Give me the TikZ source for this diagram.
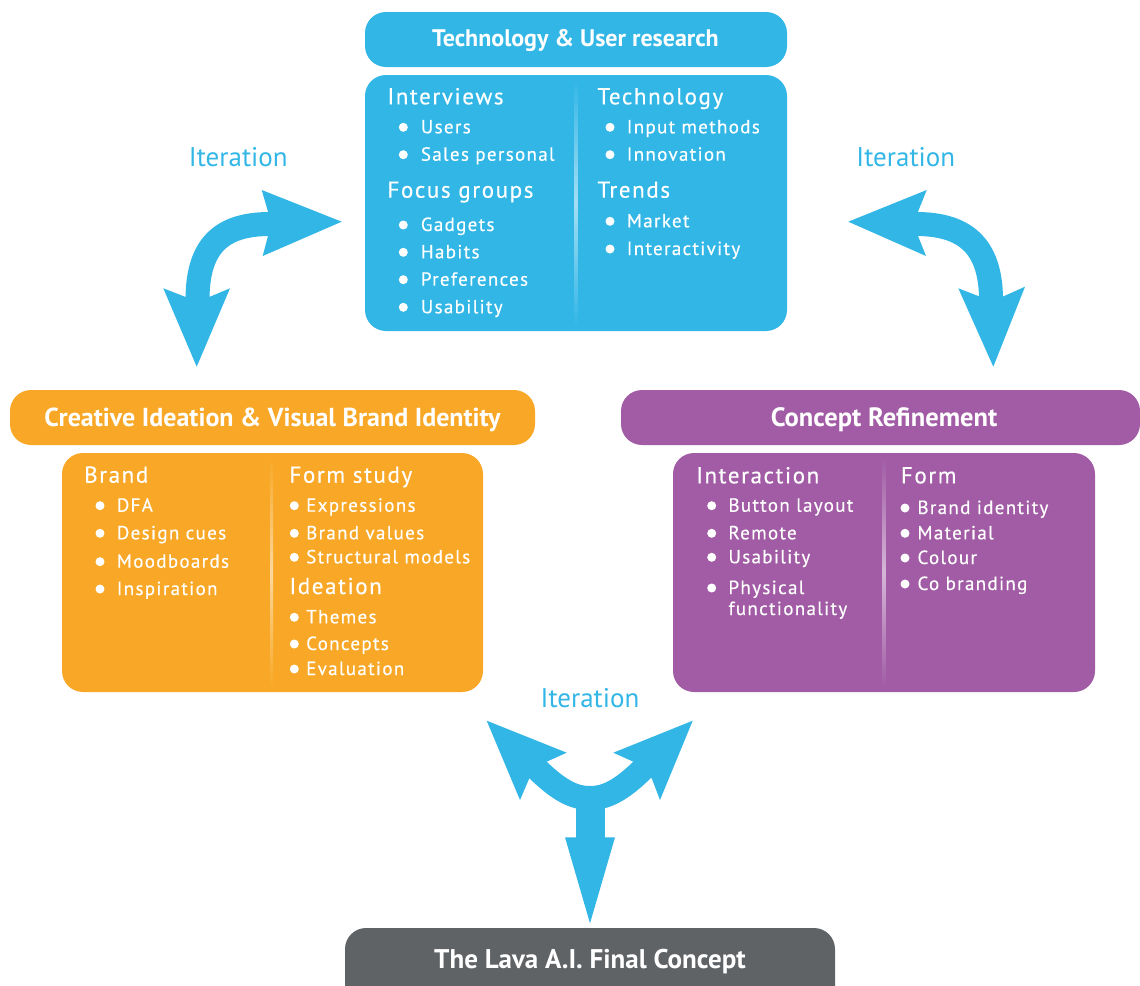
\documentclass[tikz,border=0pt]{standalone}
\usepackage{fontspec}
\setmainfont{PT Sans}
\newfontfamily\listfont[LetterSpace=7,FakeBold=0.4]{PT Sans}
\definecolor{skyblue}{RGB}{50,182,230}
\definecolor{amber}{RGB}{248,168,38}
\definecolor{plum}{RGB}{161,92,165}
\definecolor{slate}{RGB}{96,99,102}

% bullet entry: name, bullet x, text x, baseline y, text
\newcommand\listentry[5]{%
  \fill[white] (#2,#4-6) circle[radius=4.5pt];
  \node[entry] (#1) at (#3,#4) {#5};}

\begin{document}
\begin{tikzpicture}[x=1pt,y=-1pt,
  panel/.style={rectangle, rounded corners=21pt, fill=#1, draw=none,
    inner sep=0pt, outer sep=0pt},
  bartitle/.style={text=white, anchor=base, inner sep=0pt,
    font=\bfseries\fontsize{#1}{28}\selectfont},
  head/.style={text=white, anchor=base west, inner sep=0pt,
    font=\listfont\fontsize{23}{27}\selectfont},
  entry/.style={text=white, anchor=base west, inner sep=0pt,
    font=\listfont\fontsize{19}{23}\selectfont},
  iterlabel/.style={text=skyblue, anchor=base, inner sep=0pt,
    font=\fontsize{27}{31}\selectfont},
  shaft/.style={draw=skyblue, line width=24pt},
]
\useasboundingbox (0,0) rectangle (1140,985);
\clip (0,0) rectangle (1140,985);

% ---------- research block ----------
\node[panel=skyblue, minimum width=422pt, minimum height=55pt] (topbar) at (576,39.5) {};
\node[bartitle=24] (toptitle) at (575.5,46.7) {Technology \& User research};
\node[panel=skyblue, minimum width=422pt, minimum height=256pt] (topbody) at (576,203) {};
\shade[top color=skyblue, bottom color=skyblue, middle color=white!55!skyblue]
  (574.7,80) rectangle (577.3,326);

\node[head] (interviews) at (387.3,104.3) {Interviews};
\listentry{users}{403.3}{420.7}{133.3}{Users}
\listentry{sales}{403.3}{420.7}{160.7}{Sales personal}
\node[head] (focus) at (387.3,197.7) {Focus groups};
\listentry{gadgets}{403.3}{420.7}{231}{Gadgets}
\listentry{habits}{403.3}{420.7}{258.3}{Habits}
\listentry{prefs}{403.3}{420.7}{285.7}{Preferences}
\listentry{usab}{403.3}{420.7}{313.3}{Usability}
\node[head] (techno) at (597.3,104.3) {Technology};
\listentry{input}{610}{626.7}{133.3}{Input methods}
\listentry{innov}{610}{626.7}{160.7}{Innovation}
\node[head] (trends) at (597.3,197.7) {Trends};
\listentry{market}{610}{626.7}{227.3}{Market}
\listentry{interact}{610}{626.7}{255}{Interactivity}

% ---------- ideation block ----------
\node[panel=amber, minimum width=525pt, minimum height=55pt] (leftbar) at (272.5,417.5) {};
\node[bartitle=26] (lefttitle) at (272.5,426.5) {Creative Ideation \& Visual Brand Identity};
\node[panel=amber, minimum width=421pt, minimum height=239pt] (leftbody) at (272.5,572.5) {};
\shade[top color=amber, bottom color=amber, middle color=white!55!amber]
  (270.4,458) rectangle (273,687);

\node[head] (brand) at (84,482.7) {Brand};
\listentry{dfa}{100}{116.7}{511.7}{DFA}
\listentry{cues}{100}{116.7}{539.3}{Design cues}
\listentry{mood}{100}{116.7}{567.7}{Moodboards}
\listentry{inspi}{100}{116.7}{595}{Inspiration}
\node[head] (formstudy) at (289.3,482.7) {Form study};
\listentry{expr}{294.3}{306}{511.7}{Expressions}
\listentry{bvalues}{294.3}{306}{539.3}{Brand values}
\listentry{struct}{294.3}{306}{563.3}{Structural models}
\node[head] (ideation) at (289.3,594) {Ideation};
\listentry{themes}{294.3}{306}{623.3}{Themes}
\listentry{concepts}{294.3}{306}{650}{Concepts}
\listentry{evalu}{294.3}{306}{675}{Evaluation}

% ---------- refinement block ----------
\node[panel=plum, minimum width=519pt, minimum height=55pt] (rightbar) at (880.5,417.5) {};
\node[bartitle=26.5] (righttitle) at (884,426.5) {Concept Refinement};
\node[panel=plum, minimum width=422pt, minimum height=239pt] (rightbody) at (884,572.5) {};
\shade[top color=plum, bottom color=plum, middle color=white!55!plum]
  (882.7,458) rectangle (885.3,687);

\node[head] (interaction) at (696,483.3) {Interaction};
\listentry{button}{711.7}{728.3}{511.7}{Button layout}
\listentry{remote}{711.7}{728.3}{539.3}{Remote}
\listentry{usab2}{711.7}{728.3}{563.3}{Usability}
\listentry{phys}{711.7}{728.3}{594}{Physical}
\node[entry] (physb) at (728.3,615) {functionality};
\node[head] (form) at (900.7,483.3) {Form};
\listentry{bident}{905}{917.3}{514}{Brand identity}
\listentry{material}{905}{917.3}{539.3}{Material}
\listentry{colour}{905}{917.3}{564}{Colour}
\listentry{cobrand}{905}{917.3}{590}{Co branding}

% ---------- final concept ----------
\node[panel=slate, minimum width=490pt, minimum height=90pt] (finalbar) at (590,973) {};
\node[bartitle=27] (finaltitle) at (590,968) {The Lava A.I. Final Concept};

% ---------- iteration arrows ----------
\node[iterlabel] (iterL) at (238.3,166.7) {Iteration};
\node[iterlabel] (iterR) at (905.8,166.7) {Iteration};
\node[iterlabel] (iterB) at (590,707.3) {Iteration};

% left loop: research <-> ideation
\draw[shaft] (197.5,300) .. controls (197.5,245) and (222,224) .. (270,224);
\fill[skyblue] (196.7,366.7) -- (230,288.3) -- (210,296.7) -- (185,296.7) -- (163.3,288.3) -- cycle;
\fill[skyblue] (341.7,221.7) -- (262.7,256) -- (268,236) -- (268,211.7) -- (261.7,190) -- cycle;

% right loop: research <-> refinement
\draw[shaft] (916,224) .. controls (964,224) and (991,245) .. (991,300);
\fill[skyblue] (848.3,221.7) -- (926.7,190) -- (918,211.7) -- (918,236) -- (926,256) -- cycle;
\fill[skyblue] (993.3,366.7) -- (958.3,288.3) -- (980,296.7) -- (1002.7,296.7) -- (1025,286.7) -- cycle;

% three-way arrow toward the final concept
\draw[shaft] (535,767) .. controls (560,792) and (575,798) .. (590,798)
             .. controls (605,798) and (620,792) .. (645,767);
\fill[skyblue] (576,795) rectangle (605,840);
\fill[skyblue] (486.7,720.7) -- (566.7,752.7) -- (546.7,761.7) -- (529.3,778.3) -- (520,800) -- cycle;
\fill[skyblue] (692.7,720.7) -- (613.3,752.7) -- (633.3,761.7) -- (651.7,778.3) -- (660,800) -- cycle;
\fill[skyblue] (565,837.3) -- (615,837.3) -- (590,923.3) -- cycle;
\end{tikzpicture}
\end{document}
